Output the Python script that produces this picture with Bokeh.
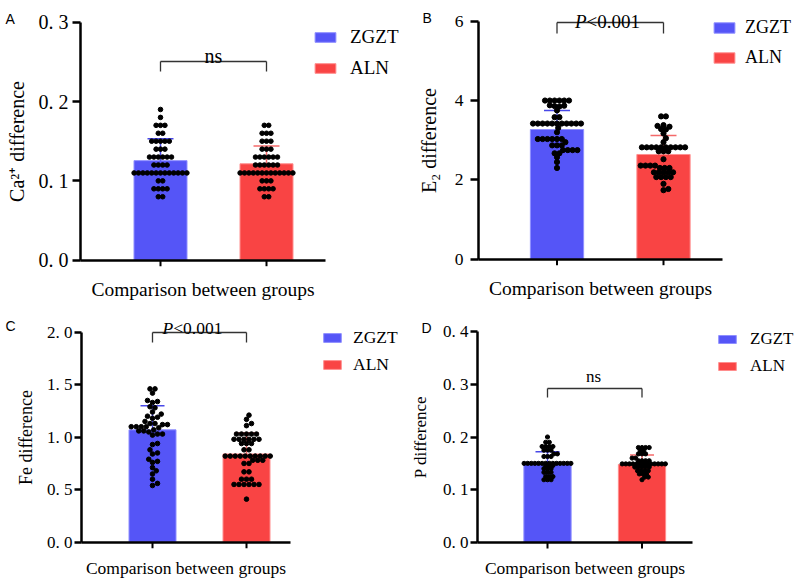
import math
from bokeh.plotting import figure
from bokeh.models import Range1d, FixedTicker, Label, Legend, LegendItem, ColumnDataSource
from bokeh.layouts import column, row
from bokeh.embed import file_html
from bokeh.resources import INLINE

# ---------------- data ----------------
GROUPS = ["ZGZT", "ALN"]
X_POS = [1, 2]
X_TITLE = "Comparison between groups"

# Panel A : Ca2+
A_YLABEL = "Ca²⁺ difference"
A_TICKS = [0, 0.1, 0.2, 0.3]
A_TICKLABELS = ["0. 0", "0. 1", "0. 2", "0. 3"]
A_MEAN = [0.1255, 0.1215]
A_SD = [0.0275, 0.0225]
A_ZGZT = [0.19, 0.18, 0.17, 0.17, 0.17, 0.16, 0.16, 0.15, 0.15, 0.15, 0.15, 0.15,
          0.14, 0.14, 0.14, 0.13, 0.13, 0.13, 0.13, 0.13, 0.13, 0.12, 0.12, 0.12, 0.12,
          0.11, 0.11, 0.11, 0.11, 0.11, 0.11, 0.11, 0.11, 0.11, 0.11, 0.11, 0.11, 0.11,
          0.10, 0.10, 0.09, 0.09, 0.09, 0.09, 0.08, 0.08]
A_ALN = [0.17, 0.17, 0.16, 0.16, 0.16, 0.15, 0.15, 0.15, 0.14, 0.14, 0.14,
         0.13, 0.13, 0.13, 0.13, 0.13, 0.13, 0.12, 0.12, 0.12, 0.12, 0.12, 0.12,
         0.11, 0.11, 0.11, 0.11, 0.11, 0.11, 0.11, 0.11, 0.11, 0.11, 0.11, 0.11, 0.11,
         0.10, 0.10, 0.10, 0.09, 0.09, 0.09, 0.09, 0.08, 0.08]
A_SIG = "ns"

# Panel B : E2
B_YLABEL = "E₂ difference"
B_TICKS = [0, 2, 4, 6]
B_TICKLABELS = ["0", "2", "4", "6"]
B_MEAN = [3.27, 2.64]
B_SD = [0.48, 0.48]
B_ZGZT = [4.0, 4.0, 4.0, 4.0, 4.0, 4.0, 3.88, 3.87, 3.86, 3.85, 3.75, 3.58, 3.58,
          3.42, 3.42, 3.42, 3.42, 3.42, 3.42, 3.42, 3.42, 3.42, 3.42, 3.42,
          3.31, 3.2, 3.03, 3.03, 3.03, 3.03, 3.03, 3.03, 2.95, 2.87, 2.87, 2.87,
          2.75, 2.75, 2.75, 2.75, 2.67, 2.67, 2.57, 2.45, 2.3]
B_ALN = [3.6, 3.6, 3.38, 3.36, 3.34, 3.28, 3.27, 3.17, 3.05, 2.95,
         2.82, 2.82, 2.82, 2.82, 2.82, 2.82, 2.82, 2.82, 2.82, 2.82,
         2.72, 2.72, 2.72, 2.52, 2.36, 2.36, 2.36, 2.36, 2.3, 2.3, 2.3,
         2.19, 2.19, 2.19, 2.19, 2.19, 2.07, 2.07, 2.07, 2.07, 1.9, 1.77, 1.74]
B_SIG = "P<0.001"

# Panel C : Fe
C_YLABEL = "Fe difference"
C_TICKS = [0, 0.5, 1.0, 1.5, 2.0]
C_TICKLABELS = ["0. 0", "0. 5", "1. 0", "1. 5", "2. 0"]
C_MEAN = [1.07, 0.84]
C_SD = [0.23, 0.20]
C_ZGZT = [1.46, 1.46, 1.42, 1.35, 1.34, 1.33, 1.29, 1.28, 1.24, 1.22, 1.2, 1.19, 1.18,
          1.15, 1.13, 1.13, 1.12, 1.12, 1.1, 1.1, 1.1, 1.1, 1.09, 1.07, 1.06, 1.06, 1.05,
          1.03, 1.03, 1.02, 0.94, 0.93, 0.88, 0.85, 0.84, 0.79, 0.77, 0.76, 0.71, 0.68,
          0.65, 0.6, 0.56, 0.54]
C_ALN = [1.21, 1.17, 1.13, 1.11, 1.03, 1.03, 1.03, 1.03, 1.03,
         0.98, 0.98, 0.98, 0.98, 0.98, 0.98, 0.94, 0.94, 0.94, 0.88, 0.88,
         0.82, 0.82, 0.82, 0.82, 0.82, 0.82, 0.82, 0.82, 0.82, 0.82,
         0.78, 0.78, 0.78, 0.75, 0.75, 0.67, 0.67, 0.6, 0.6, 0.6,
         0.55, 0.55, 0.55, 0.55, 0.55, 0.55, 0.41]
C_SIG = "P<0.001"

# Panel D : P
D_YLABEL = "P difference"
D_TICKS = [0, 0.1, 0.2, 0.3, 0.4]
D_TICKLABELS = ["0. 0", "0. 1", "0. 2", "0. 3", "0. 4"]
D_MEAN = [0.150, 0.148]
D_SD = [0.022, 0.018]
D_ZGZT = [0.2, 0.19, 0.19, 0.182, 0.182, 0.182, 0.182, 0.175, 0.175, 0.175,
          0.168, 0.168, 0.163, 0.163, 0.163,
          0.15, 0.15, 0.15, 0.15, 0.15, 0.15, 0.15, 0.15, 0.15, 0.15, 0.15, 0.15, 0.15, 0.15,
          0.146, 0.146, 0.146, 0.14, 0.14, 0.14, 0.133, 0.133, 0.133,
          0.125, 0.125, 0.125, 0.119, 0.119, 0.119]
D_ALN = [0.18, 0.18, 0.18, 0.18, 0.174, 0.174, 0.168, 0.168, 0.168, 0.16, 0.16,
         0.155, 0.155, 0.155, 0.155,
         0.149, 0.149, 0.149, 0.149, 0.149, 0.149, 0.149, 0.149, 0.149, 0.149, 0.149, 0.149, 0.149,
         0.143, 0.143, 0.143, 0.143, 0.143, 0.136, 0.136, 0.136, 0.136,
         0.13, 0.13, 0.13, 0.124, 0.124, 0.119]
D_SIG = "ns"

# ---------------- styles ----------------
BAR_COLORS = ["#5555F7", "#F94444"]
BAR_EDGES = ["#8F8FFF", "#FF8E8E"]
ERR_COLORS = ["#4848E8", "#F46A6A"]
SERIF = "Liberation Serif"


def swarm(vals, px_y, d):
    placed = []
    result = {}
    for v in sorted(set(vals)):
        n = vals.count(v)
        y = v * px_y
        base = [(k - (n - 1) / 2.0) * d for k in range(n)]
        best = None
        for j in range(0, 17):
            for sgn in ((1,) if j == 0 else (1, -1)):
                s = sgn * j * d / 4.0
                xs = [b + s for b in base]
                hits = sum(1 for x in xs for (qx, qy) in placed
                           if (x - qx) ** 2 + (y - qy) ** 2 < (0.92 * d) ** 2)
                if best is None or hits < best[0]:
                    best = (hits, xs)
                if hits == 0:
                    break
            if best[0] == 0:
                break
        result[v] = list(best[1])
        placed.extend((x, y) for x in best[1])
    return [result[v].pop(0) for v in vals]


def panel(letter, ylabel, ticks, ticklabels, mean, sd, pts, sig, L):
    # geometry (page pixels) -> data ranges covering the whole canvas
    ox, oy, w, h = L["fig"]
    c1, c2 = L["cx"]
    px_x = float(c2 - c1) / (X_POS[1] - X_POS[0])
    x_start = X_POS[0] - (c1 - ox) / px_x
    x_end = x_start + w / px_x
    ymax = ticks[-1]
    px_y = (L["y0"] - L["y1"]) / float(ymax)
    y_start = -(oy + h - L["y0"]) / px_y
    y_end = y_start + h / px_y

    def dx(page_x):
        return x_start + (page_x - ox) / px_x

    def dy(page_y):
        return y_start + (oy + h - page_y) / px_y

    p = figure(width=w, height=h,
               x_range=Range1d(x_start, x_end), y_range=Range1d(y_start, y_end),
               output_backend="svg", toolbar_location=None,
               min_border=0, min_border_left=0, min_border_right=0,
               min_border_top=0, min_border_bottom=0)
    p.outline_line_color = None
    p.xgrid.visible = False
    p.ygrid.visible = False

    # y axis
    ya = p.yaxis[0]
    ya.fixed_location = dx(L["ax"])
    ya.bounds = (0, ymax)
    ya.ticker = FixedTicker(ticks=ticks)
    ya.major_label_overrides = {t: s for t, s in zip(ticks, ticklabels)}
    ya.axis_line_width = 2.5
    ya.axis_line_color = "black"
    ya.major_tick_line_width = 2.5
    ya.major_tick_out = L["ytick"]
    ya.major_tick_in = 0
    ya.minor_tick_line_color = None
    ya.major_label_text_font = SERIF
    ya.major_label_text_font_size = L["ytick_fs"]
    ya.major_label_text_color = "black"
    ya.major_label_standoff = L["ytick_so"]
    ya.axis_label = ylabel
    ya.axis_label_text_font = SERIF
    ya.axis_label_text_font_style = "normal"
    ya.axis_label_text_font_size = L["ylab_fs"]
    ya.axis_label_text_color = "black"
    ya.axis_label_standoff = L["ylab_so"]

    # x axis (line + title; tick marks drawn at the group positions below)
    xa = p.xaxis[0]
    xa.fixed_location = 0
    xa.bounds = (dx(L["ax"]), dx(L["xr"]))
    xa.ticker = FixedTicker(ticks=[])
    xa.major_label_standoff = 0
    xa.major_tick_out = 0
    xa.major_tick_in = 0
    xa.axis_line_width = 2.5
    xa.axis_line_color = "black"
    xa.minor_tick_line_color = None
    xa.axis_label = X_TITLE
    xa.axis_label_text_font = SERIF
    xa.axis_label_text_font_style = "normal"
    xa.axis_label_text_font_size = L["xlab_fs"]
    xa.axis_label_text_color = "black"
    xa.axis_label_standoff = L["xlab_so"]
    p.segment(x0=X_POS, y0=[0, 0], x1=X_POS, y1=[-6.0 / px_y, -6.0 / px_y],
              line_color="black", line_width=2)

    # bars
    src = ColumnDataSource(dict(x=X_POS, top=mean, fill=BAR_COLORS, line=BAR_EDGES))
    bars = p.vbar(x="x", top="top", bottom=0, width=0.5, fill_color="fill",
                  line_color="line", line_width=1, source=src)

    # error bars (mean + SD)
    upper = [m + s for m, s in zip(mean, sd)]
    cap = L["cap"] / px_x
    p.segment(x0=X_POS, y0=mean, x1=X_POS, y1=upper, line_color=ERR_COLORS, line_width=1.5)
    p.segment(x0=[x - cap for x in X_POS], y0=upper, x1=[x + cap for x in X_POS], y1=upper,
              line_color=ERR_COLORS, line_width=1.5)

    # dots
    for gi, vals in enumerate(pts):
        offs = swarm(vals, px_y, L["d"])
        xs = [X_POS[gi] + o / px_x for o in offs]
        p.scatter(xs, vals, size=L["dot"], color="black", line_color="black")

    # significance bracket
    by, bl = dy(L["br"][0]), dy(L["br"][1])
    p.segment(x0=[X_POS[0], X_POS[0], X_POS[1]], y0=[by, by, by],
              x1=[X_POS[1], X_POS[0], X_POS[1]], y1=[by, bl, bl],
              line_color="#333333", line_width=1.3)
    sx, sy = dx(L["sig"][0]), dy(L["sig"][1])
    fs = L["sig_fs"]
    if sig.startswith("P"):
        pw = 0.611 * fs
        rest = 2.814 * fs
        split = -(pw + rest) / 2.0 + pw
        p.add_layout(Label(x=sx, y=sy, text=sig[0], text_align="right",
                           text_baseline="alphabetic", x_offset=split,
                           text_font=SERIF, text_font_style="italic",
                           text_font_size="%gpx" % fs, text_color="black"))
        p.add_layout(Label(x=sx, y=sy, text=sig[1:], text_align="left",
                           text_baseline="alphabetic", x_offset=split,
                           text_font=SERIF, text_font_size="%gpx" % fs, text_color="black"))
    else:
        p.add_layout(Label(x=sx, y=sy, text=sig, text_align="center",
                           text_baseline="alphabetic", text_font=SERIF,
                           text_font_size="%gpx" % fs, text_color="black"))

    # legend
    gl, gb = L["leg"]
    legend = Legend(items=[LegendItem(label=g, renderers=[bars], index=i)
                           for i, g in enumerate(GROUPS)],
                    location=(gl - ox, oy + h - gb), glyph_width=L["leg_gw"],
                    glyph_height=L["leg_gh"], label_height=20, label_standoff=L["leg_so"],
                    spacing=L["leg_sp"], padding=0, margin=0,
                    border_line_color=None, background_fill_alpha=0,
                    label_text_font=SERIF, label_text_font_size=L["leg_fs"],
                    label_text_color="black")
    p.add_layout(legend)

    # panel letter
    lx, ly = L["let"]
    p.add_layout(Label(x=dx(lx), y=dy(ly), text=letter, text_align="left",
                       text_baseline="alphabetic", text_font="Liberation Sans",
                       text_font_size="14px", text_color="black"))
    return p


# layout: page-pixel geometry of each panel
LA = dict(fig=(0, 0, 400, 300), cx=(160, 266), ax=80, xr=325, y0=259.7, y1=21.7,
          ytick=8, ytick_fs="20px", ytick_so=4, ylab_fs="20px", ylab_so=8,
          xlab_fs="19.5px", xlab_so=18, cap=13, d=4.4, dot=4.6,
          br=(61, 71), sig=(213, 55), sig_fs=20,
          leg=(312, 79), leg_gw=26, leg_gh=12, leg_so=12, leg_sp=9, leg_fs="19px",
          let=(5, 18.5))
LB = dict(fig=(400, 0, 396, 300), cx=(556.5, 663), ax=478, xr=722, y0=258.7, y1=20.7,
          ytick=8, ytick_fs="17.5px", ytick_so=7, ylab_fs="20px", ylab_so=12,
          xlab_fs="19.5px", xlab_so=18, cap=13, d=4.8, dot=5.2,
          br=(22, 33), sig=(607, 20.5), sig_fs=19,
          leg=(711, 67.5), leg_gw=26, leg_gh=13, leg_so=8, leg_sp=9, leg_fs="18px",
          let=(422, 17.5))
LC = dict(fig=(0, 300, 400, 280), cx=(152, 246), ax=81, xr=290, y0=541.7, y1=331.7,
          ytick=7, ytick_fs="17px", ytick_so=2, ylab_fs="18px", ylab_so=8,
          xlab_fs="17.5px", xlab_so=15, cap=12, d=5.0, dot=4.6,
          br=(332, 342), sig=(192, 327), sig_fs=17.5,
          leg=(321, 375), leg_gw=22, leg_gh=11, leg_so=10, leg_sp=6, leg_fs="17.5px",
          let=(5, 325))
LD = dict(fig=(400, 300, 396, 280), cx=(547, 641.5), ax=477, xr=692, y0=542, y1=331,
          ytick=7, ytick_fs="17px", ytick_so=2, ylab_fs="17px", ylab_so=10,
          xlab_fs="17.5px", xlab_so=15, cap=12, d=3.6, dot=4.2,
          br=(388, 397), sig=(593, 376), sig_fs=17,
          leg=(716, 375.5), leg_gw=22, leg_gh=10, leg_so=12, leg_sp=7, leg_fs="17px",
          let=(421, 327))

pA = panel("A", A_YLABEL, A_TICKS, A_TICKLABELS, A_MEAN, A_SD, [A_ZGZT, A_ALN], A_SIG, LA)
pB = panel("B", B_YLABEL, B_TICKS, B_TICKLABELS, B_MEAN, B_SD, [B_ZGZT, B_ALN], B_SIG, LB)
pC = panel("C", C_YLABEL, C_TICKS, C_TICKLABELS, C_MEAN, C_SD, [C_ZGZT, C_ALN], C_SIG, LC)
pD = panel("D", D_YLABEL, D_TICKS, D_TICKLABELS, D_MEAN, D_SD, [D_ZGZT, D_ALN], D_SIG, LD)

layout = column(row(pA, pB), row(pC, pD))
open("out.html", "w").write(file_html(layout, INLINE))
